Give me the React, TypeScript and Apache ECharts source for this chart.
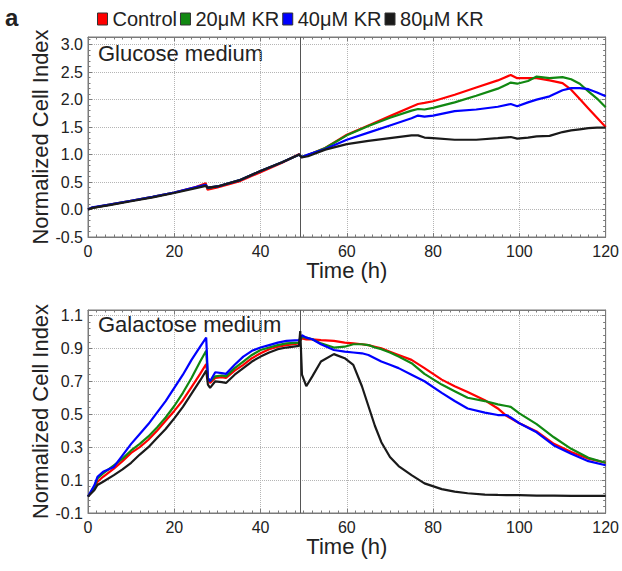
import React, { useEffect, useRef } from "react";
import * as echarts from "echarts";

const seriesNames = ["Control", "20μM KR", "40μM KR", "80μM KR"];
const seriesColors = ["#ff0000", "#118811", "#0000ff", "#1a1a1a"];

const panelTitles = ["Glucose medium", "Galactose medium"];
const timeTicks = [0, 20, 40, 60, 80, 100, 120];
const glucoseYTicks = [-0.5, 0, 0.5, 1, 1.5, 2, 2.5, 3];
const galactoseYTicks = [-0.1, 0.1, 0.3, 0.5, 0.7, 0.9, 1.1];
const treatmentTime = 49.2;

const glucoseTime = [0, 1, 5, 10, 15, 20, 25, 27.3, 27.7, 30, 35, 40, 45, 49, 49.5, 51, 55, 60, 65, 70, 75, 76.5, 78, 80, 85, 90, 95, 98, 99.5, 102, 104, 107, 110, 112, 114, 116, 118, 120];
const glucoseControl = [0, 0.03, 0.09, 0.16, 0.23, 0.31, 0.41, 0.48, 0.36, 0.40, 0.51, 0.68, 0.85, 1.01, 0.95, 0.99, 1.12, 1.36, 1.53, 1.70, 1.87, 1.92, 1.94, 1.97, 2.09, 2.22, 2.35, 2.45, 2.39, 2.39, 2.39, 2.35, 2.30, 2.18, 2.01, 1.84, 1.67, 1.50];
const glucose20 = [0, 0.03, 0.09, 0.16, 0.23, 0.31, 0.40, 0.45, 0.39, 0.42, 0.53, 0.70, 0.86, 1.00, 0.96, 0.99, 1.12, 1.35, 1.52, 1.67, 1.80, 1.83, 1.82, 1.85, 1.95, 2.07, 2.20, 2.31, 2.29, 2.34, 2.42, 2.39, 2.41, 2.37, 2.29, 2.15, 2.02, 1.86];
const glucose40 = [0, 0.04, 0.09, 0.16, 0.23, 0.31, 0.41, 0.45, 0.40, 0.42, 0.53, 0.70, 0.86, 1.00, 0.95, 1.00, 1.10, 1.27, 1.40, 1.53, 1.66, 1.71, 1.69, 1.71, 1.79, 1.82, 1.87, 1.92, 1.88, 1.95, 2.00, 2.06, 2.17, 2.21, 2.21, 2.19, 2.13, 2.06];
const glucose80 = [0, 0.03, 0.08, 0.15, 0.22, 0.30, 0.39, 0.43, 0.40, 0.42, 0.53, 0.70, 0.86, 1.00, 0.95, 0.97, 1.09, 1.19, 1.25, 1.30, 1.35, 1.35, 1.31, 1.30, 1.27, 1.27, 1.30, 1.32, 1.29, 1.31, 1.33, 1.34, 1.41, 1.44, 1.46, 1.48, 1.49, 1.49];

const galactoseTime = [0, 1.5, 2.2, 3.5, 6, 8, 10, 12, 14, 16, 18, 20, 22, 24, 26, 27.4, 27.8, 28.3, 29.5, 31, 32, 34, 36, 38, 40, 42, 44, 46, 48.9, 49.2, 49.6, 50.6, 52, 54, 57, 59.5, 61.5, 63.5, 65, 66.5, 68, 70, 72, 75, 78, 82, 85, 88, 92, 95, 97, 98, 100, 104, 108, 112, 116, 120];
const galactoseControl = [0.00, 0.05, 0.09, 0.12, 0.17, 0.215, 0.265, 0.30, 0.345, 0.40, 0.46, 0.52, 0.585, 0.665, 0.745, 0.805, 0.71, 0.69, 0.72, 0.725, 0.72, 0.765, 0.80, 0.84, 0.87, 0.895, 0.91, 0.92, 0.93, 0.95, 0.96, 0.955, 0.955, 0.95, 0.945, 0.935, 0.93, 0.925, 0.92, 0.91, 0.90, 0.88, 0.86, 0.83, 0.78, 0.71, 0.67, 0.635, 0.585, 0.535, 0.49, 0.475, 0.445, 0.395, 0.32, 0.27, 0.23, 0.205];
const galactose20 = [0.00, 0.06, 0.11, 0.14, 0.19, 0.23, 0.28, 0.32, 0.365, 0.42, 0.48, 0.55, 0.63, 0.72, 0.82, 0.885, 0.72, 0.70, 0.73, 0.735, 0.73, 0.78, 0.82, 0.86, 0.89, 0.905, 0.92, 0.93, 0.935, 0.95, 0.97, 0.965, 0.955, 0.93, 0.905, 0.91, 0.925, 0.925, 0.92, 0.905, 0.895, 0.875, 0.85, 0.81, 0.745, 0.68, 0.64, 0.60, 0.58, 0.56, 0.55, 0.545, 0.505, 0.44, 0.36, 0.29, 0.235, 0.205];
const galactose40 = [0.00, 0.07, 0.12, 0.15, 0.18, 0.25, 0.32, 0.38, 0.44, 0.51, 0.58, 0.66, 0.74, 0.83, 0.91, 0.965, 0.72, 0.70, 0.755, 0.75, 0.745, 0.80, 0.85, 0.885, 0.905, 0.92, 0.935, 0.945, 0.95, 0.96, 0.98, 0.965, 0.955, 0.925, 0.89, 0.88, 0.875, 0.87, 0.86, 0.84, 0.82, 0.80, 0.78, 0.74, 0.70, 0.63, 0.58, 0.535, 0.51, 0.495, 0.495, 0.48, 0.445, 0.39, 0.31, 0.26, 0.215, 0.19];
const galactose80 = [0.00, 0.04, 0.07, 0.09, 0.13, 0.165, 0.205, 0.255, 0.30, 0.355, 0.41, 0.475, 0.545, 0.625, 0.705, 0.765, 0.68, 0.66, 0.70, 0.695, 0.69, 0.74, 0.78, 0.82, 0.85, 0.875, 0.895, 0.905, 0.915, 1.005, 0.74, 0.67, 0.73, 0.82, 0.865, 0.84, 0.80, 0.67, 0.55, 0.43, 0.33, 0.24, 0.185, 0.13, 0.08, 0.045, 0.03, 0.02, 0.012, 0.01, 0.009, 0.008, 0.008, 0.006, 0.005, 0.004, 0.004, 0.004];

const glucoseSeries = [glucoseControl, glucose20, glucose40, glucose80];
const galactoseSeries = [galactoseControl, galactose20, galactose40, galactose80];

const FONT = "'Liberation Sans', Arial, Helvetica, sans-serif";
const AXIS_COLOR = "#7a7a7a";
const TEXT_COLOR = "#222";

function buildOption() {
  const grids = [
    { left: 88, top: 37, width: 519, height: 200, show: true, borderColor: AXIS_COLOR, borderWidth: 1 },
    { left: 88, top: 310, width: 519, height: 203, show: true, borderColor: AXIS_COLOR, borderWidth: 1 },
  ];

  const xMain = (gridIndex: number, nameGap: number) => ({
    type: "value",
    gridIndex,
    min: timeTicks[0],
    max: timeTicks[timeTicks.length - 1],
    interval: timeTicks[1] - timeTicks[0],
    axisLine: { show: true, onZero: false, lineStyle: { color: AXIS_COLOR } },
    axisTick: { show: true, inside: true, length: 4, lineStyle: { color: AXIS_COLOR } },
    minorTick: { show: true, splitNumber: 10, length: 2.5, lineStyle: { color: AXIS_COLOR } },
    axisLabel: { fontSize: 16, color: TEXT_COLOR, margin: 6, fontFamily: FONT },
    splitLine: { show: true, lineStyle: { type: "dotted", color: "#b5b5b5" } },
    name: "Time (h)",
    nameLocation: "middle",
    nameGap,
    nameTextStyle: { fontSize: 22, color: TEXT_COLOR, fontFamily: FONT },
  });
  const xMirror = (gridIndex: number) => ({
    type: "value",
    gridIndex,
    position: "top",
    min: timeTicks[0],
    max: timeTicks[timeTicks.length - 1],
    interval: timeTicks[1] - timeTicks[0],
    axisLine: { show: true, onZero: false, lineStyle: { color: AXIS_COLOR } },
    axisTick: { show: true, inside: true, length: 4, lineStyle: { color: AXIS_COLOR } },
    minorTick: { show: true, splitNumber: 10, length: 2.5, lineStyle: { color: AXIS_COLOR } },
    axisLabel: { show: false },
    splitLine: { show: false },
  });

  const yMain = (gridIndex: number, ticks: number[], max: number) => ({
    type: "value",
    gridIndex,
    min: ticks[0],
    max,
    interval: ticks[1] - ticks[0],
    axisLine: { show: true, onZero: false, lineStyle: { color: AXIS_COLOR } },
    axisTick: { show: true, inside: true, length: 4, lineStyle: { color: AXIS_COLOR } },
    minorTick: { show: true, splitNumber: 5, length: 2.5, lineStyle: { color: AXIS_COLOR } },
    axisLabel: {
      fontSize: 16,
      color: TEXT_COLOR,
      margin: 5,
      fontFamily: FONT,
      showMaxLabel: false,
      formatter: (v: number) => v.toFixed(1),
    },
    splitLine: { show: true, lineStyle: { type: "dotted", color: "#b5b5b5" } },
    name: "Normalized Cell Index",
    nameLocation: "middle",
    nameGap: 37,
    nameMoveOverlap: false,
    nameTextStyle: { fontSize: 22, color: TEXT_COLOR, fontFamily: FONT },
  });
  const yMirror = (gridIndex: number, ticks: number[], max: number) => ({
    type: "value",
    gridIndex,
    position: "right",
    min: ticks[0],
    max,
    interval: ticks[1] - ticks[0],
    axisLine: { show: true, onZero: false, lineStyle: { color: AXIS_COLOR } },
    axisTick: { show: true, inside: true, length: 4, lineStyle: { color: AXIS_COLOR } },
    minorTick: { show: true, splitNumber: 5, length: 2.5, lineStyle: { color: AXIS_COLOR } },
    axisLabel: { show: false },
    splitLine: { show: false },
  });

  const makeSeries = (time: number[], values: number[][], axisIdx: number) =>
    values.map((vals, i) => ({
      type: "line",
      name: seriesNames[i],
      xAxisIndex: axisIdx,
      yAxisIndex: axisIdx,
      data: time.map((t, k) => [t, vals[k]]),
      showSymbol: false,
      lineStyle: { width: 2.2, color: seriesColors[i] },
      itemStyle: { color: seriesColors[i] },
      z: 3 + i,
      markLine:
        i === 0
          ? {
              silent: true,
              symbol: ["none", "none"],
              label: { show: false },
              lineStyle: { type: "solid", color: "#555", width: 1 },
              data: [{ xAxis: treatmentTime }],
            }
          : undefined,
    }));

  return {
    animation: false,
    textStyle: { fontFamily: FONT },
    legend: {
      data: seriesNames,
      left: 97,
      top: 9,
      padding: 0,
      itemWidth: 10,
      itemHeight: 12,
      itemGap: 3,
      icon: "rect",
      itemStyle: { borderColor: "#333", borderWidth: 1 },
      textStyle: { fontSize: 20, color: TEXT_COLOR, fontFamily: FONT },
    },
    grid: grids,
    xAxis: [xMain(0, 19), xMirror(0), xMain(1, 22), xMirror(1)],
    yAxis: [
      yMain(0, glucoseYTicks, 3.14),
      yMirror(0, glucoseYTicks, 3.14),
      yMain(1, galactoseYTicks, 1.133),
      yMirror(1, galactoseYTicks, 1.133),
    ],
    series: [
      ...makeSeries(glucoseTime, glucoseSeries, 0),
      ...makeSeries(galactoseTime, galactoseSeries, 2),
    ],
    graphic: [
      {
        type: "text",
        left: 5,
        top: 5,
        style: { text: "a", fontSize: 24, fontWeight: "bold", fill: TEXT_COLOR, font: `bold 24px ${FONT}` },
      },
      {
        type: "text",
        x: 98,
        y: 53,
        style: { text: panelTitles[0], fontSize: 22, fill: TEXT_COLOR, fontFamily: FONT, verticalAlign: "middle" },
      },
      {
        type: "text",
        x: 98,
        y: 324,
        style: { text: panelTitles[1], fontSize: 22, fill: TEXT_COLOR, fontFamily: FONT, verticalAlign: "middle" },
      },
    ],
  };
}

export default function App() {
  const ref = useRef<HTMLDivElement>(null);
  useEffect(() => {
    if (!ref.current) return;
    const chart = echarts.init(ref.current, undefined, { renderer: "svg" });
    chart.setOption(buildOption() as any);
    return () => chart.dispose();
  }, []);
  return (
    <div
      ref={ref}
      style={{ position: "absolute", left: 0, top: 0, width: 622, height: 571, background: "#fff" }}
    />
  );
}
